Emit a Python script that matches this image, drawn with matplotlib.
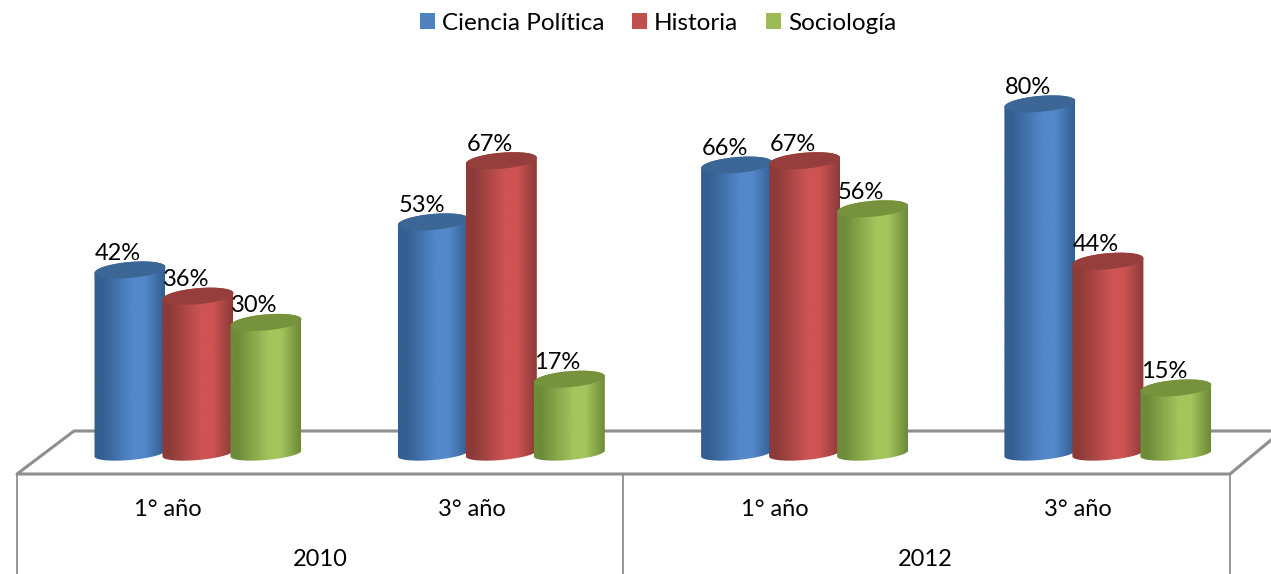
# -*- coding:utf-8 -*-
import numpy as np
import matplotlib

matplotlib.use("Agg")
import matplotlib.pyplot as plt
from matplotlib.colors import LinearSegmentedColormap
from matplotlib.patches import Patch, PathPatch, Polygon
from matplotlib.path import Path

plt.rcParams["font.family"] = ["Lato", "DejaVu Sans"]

courses = ["1° año", "3° año", "1° año", "3° año"]
years = ["2010", "2012"]
series_names = ["Ciencia Política", "Historia", "Sociología"]
ciencia = [42, 53, 66, 80]
historia = [36, 67, 67, 44]
sociologia = [30, 17, 56, 15]

# legend colour, edge of the cylinder, light stripe, top cap
blue = ["#4f81bd", "#335f90", "#5388cb", "#3c6695"]
red = ["#c0504d", "#8c3b39", "#cd5452", "#963e3b"]
green = ["#9bbb59", "#6d8b38", "#a3c55c", "#76923c"]

W, H = 1271, 574
fig = plt.figure(figsize=(W / 100, H / 100), dpi=100)

# floor and table below it, in pixels
frame = fig.add_axes([0, 0, 1, 1], zorder=1)
frame.set_xlim(0, W)
frame.set_ylim(H, 0)
frame.axis("off")
gray = "#8f8f8f"
frame.plot([W, 74, 17, 1230, W], [431, 431, 474, 474, 440], color=gray, lw=2.2)
for x in [17, 623, 1230]:
    frame.plot([x, x], [474, H], color=gray, lw=1.3)
for x, label in zip([168, 472, 775, 1078], courses):
    frame.text(x, 509, label, ha="center", va="center", fontsize=17, color="black")
for x, label in zip([320, 925], years):
    frame.text(x, 560, label, ha="center", va="center", fontsize=17, color="black")

# bars: x in groups, y in percent
ax = fig.add_axes([0, 0, 1, 1], zorder=2)
ax.patch.set_alpha(0)
px_x = 303.3
px_y = 4.37
x0 = -198 / px_x
y_top = 453.5 / px_y
y_bottom = (453.5 - H) / px_y
step = 68 / px_x
rx = 35.5 / px_x
ry = 8 / px_y
tilt = 3 / px_y


def ellipse(cx, cy, t, r=ry):
    return cx + rx * np.cos(t), cy + r * np.sin(t) + tilt * np.cos(t)


def cylinder(cx, value, colors):
    cmap = LinearSegmentedColormap.from_list(
        "cyl",
        [(0, colors[1]), (0.1, colors[1]), (0.55, colors[2]), (0.72, colors[2]), (1, colors[1])],
    )
    xb, yb = ellipse(cx, 0, np.linspace(np.pi, 2 * np.pi, 40), 6.5 / px_y)
    xt, yt = ellipse(cx, value, np.linspace(0, np.pi, 40))
    verts = np.column_stack([np.r_[xb, xt], np.r_[yb, yt]])
    clip = PathPatch(Path(np.vstack([verts, verts[0]])), fc="none", ec="none", transform=ax.transData)
    ax.add_patch(clip)
    img = ax.imshow(
        np.linspace(0, 1, 80).reshape(1, -1),
        cmap=cmap,
        extent=[cx - rx, cx + rx, -3, value + 3],
        aspect="auto",
        zorder=3,
    )
    img.set_clip_path(clip)
    xc, yc = ellipse(cx, value, np.linspace(0, 2 * np.pi, 80))
    ax.add_patch(Polygon(np.column_stack([xc, yc]), fc=colors[3], ec="none", zorder=3))


for s, (values, colors) in enumerate(zip([ciencia, historia, sociologia], [blue, red, green])):
    for g, v in enumerate(values):
        cx = g + (s - 1) * step
        cylinder(cx, v, colors)
        ax.annotate(
            f"{v}%", (cx, v), xytext=(-8.5, 12), textcoords="offset points",
            ha="center", va="center", fontsize=17, color="black", zorder=5,
        )

ax.set_xlim(x0, x0 + W / px_x)
ax.set_ylim(y_bottom, y_top)
ax.axis("off")

handles = [Patch(fc=c[0], ec="none") for c in [blue, red, green]]
fig.legend(
    handles, series_names, loc="upper center", bbox_to_anchor=(0.5177, 1.0), ncol=3,
    frameon=False, fontsize=17.5, handlelength=0.62, handleheight=0.62,
    handletextpad=0.3, columnspacing=1.12, borderaxespad=0.13,
)

fig.savefig("out.png", dpi=100)
